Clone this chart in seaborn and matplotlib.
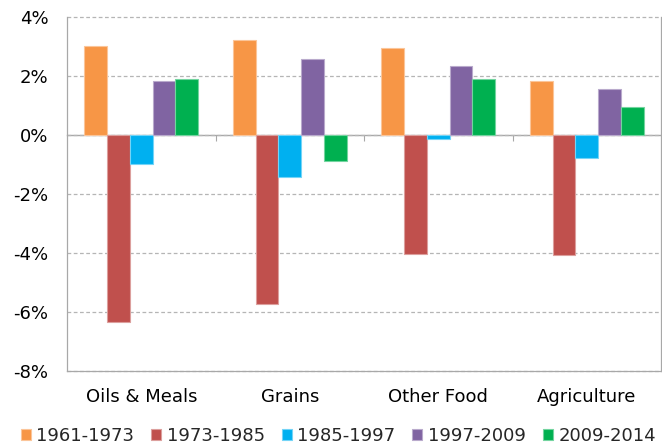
import matplotlib
matplotlib.use("Agg")
import matplotlib.pyplot as plt
from matplotlib.ticker import FuncFormatter, FixedLocator
import matplotlib.colors as mcolors
import numpy as np
import pandas as pd
import seaborn as sns

# Average annual growth rates (%) by commodity group and period
categories = ["Oils & Meals", "Grains", "Other Food", "Agriculture"]
periods = ["1961-1973", "1973-1985", "1985-1997", "1997-2009", "2009-2014"]
growth_1961_1973 = [3.02, 3.22, 2.94, 1.82]
growth_1973_1985 = [-6.33, -5.74, -4.05, -4.08]
growth_1985_1997 = [-0.99, -1.43, -0.14, -0.77]
growth_1997_2009 = [1.84, 2.59, 2.33, 1.55]
growth_2009_2014 = [1.89, -0.88, 1.89, 0.94]
period_colors = ["#F79646", "#C0504D", "#00B0F0", "#8064A2", "#00B050"]
y_ticks = [-8, -6, -4, -2, 0, 2, 4]

series = [growth_1961_1973, growth_1973_1985, growth_1985_1997,
          growth_1997_2009, growth_2009_2014]
df = pd.DataFrame(
    [(c, p, v) for p, vals in zip(periods, series) for c, v in zip(categories, vals)],
    columns=["Category", "Period", "Growth"],
)

sns.set_style("white")
plt.rcParams["font.family"] = ["DejaVu Sans"]
plt.rcParams["font.size"] = 13

fig = plt.figure(figsize=(6.62, 4.44), dpi=100)
ax = fig.add_axes([67 / 662, 1 - 371 / 444, 594 / 662, 354 / 444])

sns.barplot(data=df, x="Category", y="Growth", hue="Period",
            order=categories, hue_order=periods, palette=period_colors,
            saturation=1, width=0.765, gap=0, ax=ax)

# soft, lighter outline round every bar
for bar in ax.patches:
    fc = np.array(mcolors.to_rgb(bar.get_facecolor()))
    bar.set_edgecolor(tuple(fc + (1 - fc) * 0.45))
    bar.set_linewidth(0.8)

ax.set_ylim(-8, 4)
ax.set_xlim(-0.5, len(categories) - 0.5)
ax.yaxis.set_major_locator(FixedLocator(y_ticks))
ax.yaxis.set_major_formatter(FuncFormatter(lambda v, _: f"{int(round(v))}%"))
ax.set_xlabel("")
ax.set_ylabel("")

grid_gray = "#b5b5b5"
ax.yaxis.grid(True, linestyle=(0, (3, 2)), color=grid_gray, linewidth=0.9)
ax.set_axisbelow(True)
for gl in ax.yaxis.get_gridlines():
    gl.set_clip_on(False)

for side in ["left", "right", "bottom"]:
    ax.spines[side].set_visible(True)
    ax.spines[side].set_color("#a8a8a8")
    ax.spines[side].set_linewidth(0.9)
ax.spines["top"].set_visible(False)

ax.tick_params(axis="y", which="major", direction="out", length=4.3,
               width=0.8, color="#a8a8a8", pad=9, labelsize=13, labelcolor="black")
ax.tick_params(axis="x", which="major", length=0, pad=12, labelsize=13,
               labelcolor="black")

# zero line with short separators between the category groups
zero_ax = ax.secondary_xaxis(0, transform=ax.transData)
zero_ax.set_xticks(np.arange(len(categories) - 1) + 0.5)
zero_ax.set_xticklabels([])
zero_ax.tick_params(direction="out", length=4.5, width=0.8, color="#a8a8a8")
zero_ax.spines["bottom"].set_color("#a8a8a8")
zero_ax.spines["bottom"].set_linewidth(1.0)

handles, labels = ax.get_legend_handles_labels()
ax.get_legend().remove()
fig.legend(handles, labels, loc="center", bbox_to_anchor=(0.511, 0.018),
           ncol=5, frameon=False, fontsize=13, handlelength=0.55,
           handleheight=0.55, handletextpad=0.3, columnspacing=0.95,
           borderpad=0.1)

fig.savefig("out.png", dpi=100)
